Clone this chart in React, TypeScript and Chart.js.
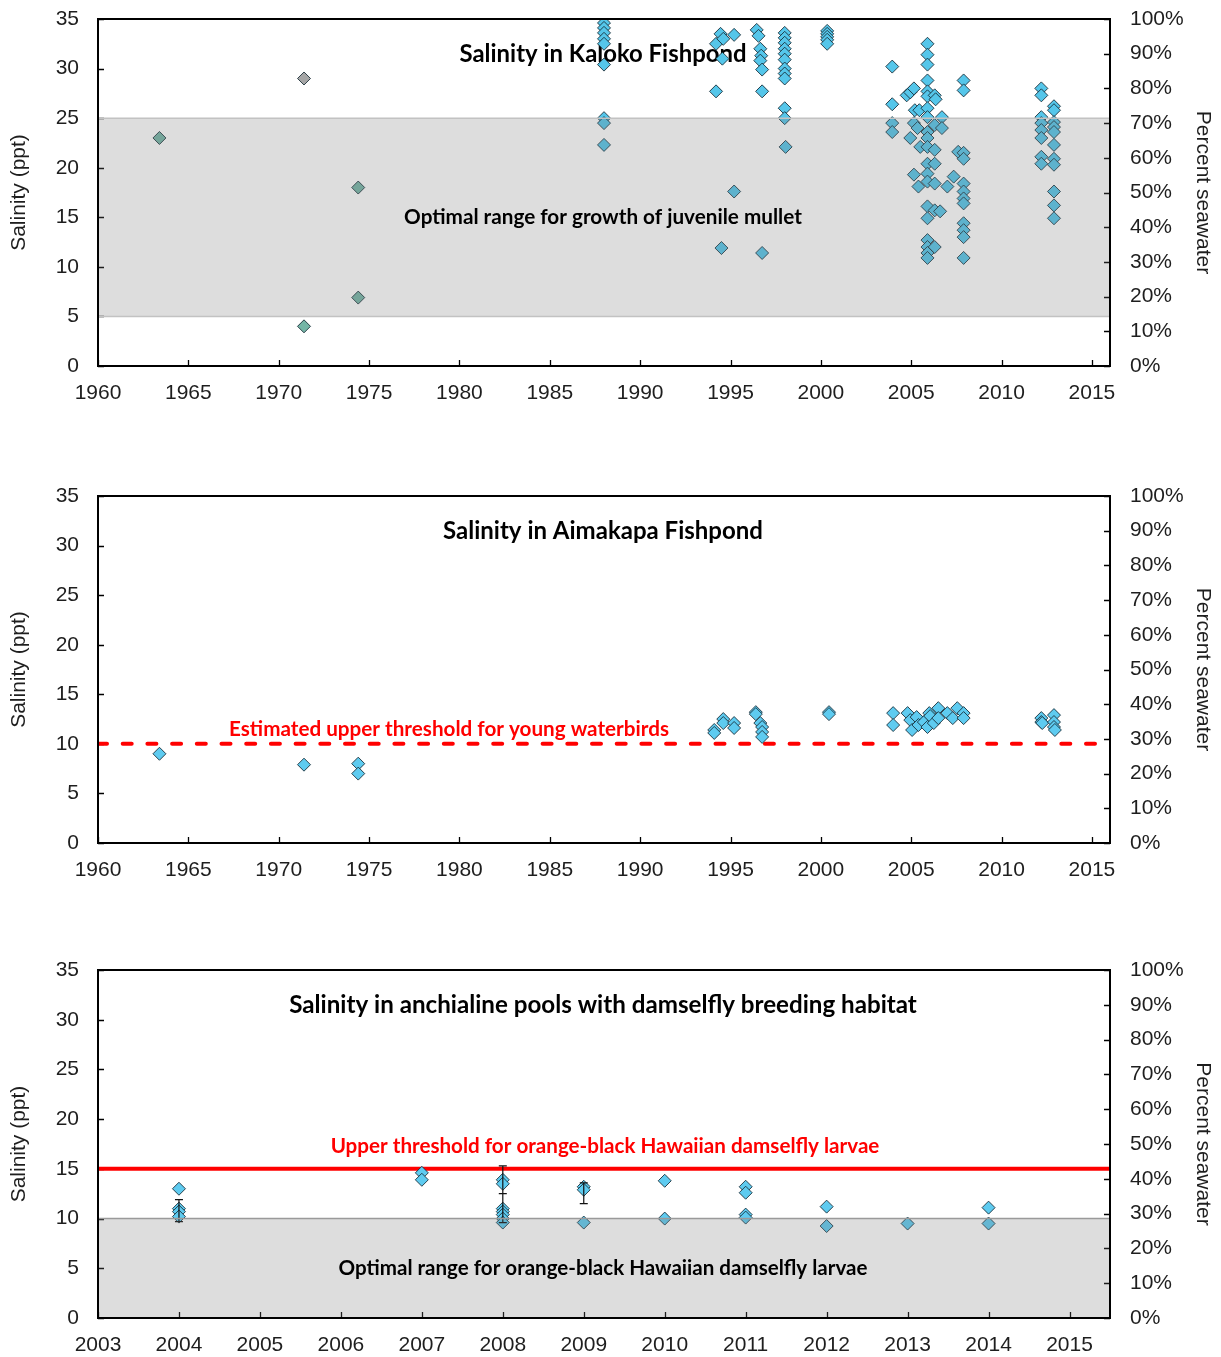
import React, { useEffect, useRef } from 'react';
import Chart from 'chart.js/auto';

// ---------------- DATA ----------------
const longTermYearTicks = [1960, 1965, 1970, 1975, 1980, 1985, 1990, 1995, 2000, 2005, 2010, 2015];
const poolYearTicks = [2003, 2004, 2005, 2006, 2007, 2008, 2009, 2010, 2011, 2012, 2013, 2014, 2015];

// Kaloko Fishpond salinity (year, ppt)
const kalokoHistoricGray = [[1971.4, 29.0]];
const kalokoHistoric = [[1963.4, 23.0], [1971.4, 4.0], [1974.4, 18.0], [1974.4, 6.9]];
const kalokoRecent = [
  [1988.0, 34.6], [1988.0, 34.1], [1988.0, 33.6], [1988.0, 33.0], [1988.0, 32.5], [1988.0, 30.4], [1988.0, 25.0], [1988.0, 24.5], [1988.0, 22.3],
  [1994.2, 32.5], [1994.45, 33.5], [1994.6, 33.0], [1994.55, 31.0], [1995.2, 33.4], [1994.2, 27.7], [1995.2, 17.6], [1994.5, 11.9],
  [1996.45, 33.9], [1996.55, 33.3], [1996.65, 32.0], [1996.7, 31.3], [1996.65, 30.8], [1996.75, 29.9], [1996.75, 27.7], [1996.75, 11.4],
  [1998.0, 33.6], [1998.0, 33.1], [1998.0, 32.6], [1998.0, 32.0], [1998.0, 31.5], [1998.0, 30.9], [1998.0, 30.0], [1998.0, 29.5], [1998.0, 29.0], [1998.0, 26.0], [1998.0, 25.0], [1998.05, 22.1],
  [2000.35, 33.8], [2000.35, 33.5], [2000.35, 33.2], [2000.35, 32.9], [2000.35, 32.5],
  [2003.95, 30.2], [2003.95, 26.4], [2003.95, 24.5], [2003.95, 23.6],
  [2004.75, 27.3], [2004.95, 27.6], [2005.15, 28.0], [2005.2, 25.8], [2005.45, 25.8], [2005.15, 24.5], [2005.35, 24.0], [2004.95, 23.0], [2005.5, 22.1], [2005.15, 19.3], [2005.4, 18.1],
  [2005.9, 32.5], [2005.9, 31.4], [2005.9, 30.4], [2005.9, 28.8], [2005.9, 27.7], [2005.9, 27.2], [2005.9, 26.0], [2005.9, 25.1], [2005.9, 23.6], [2005.9, 23.0], [2005.9, 22.1], [2005.9, 20.4], [2005.9, 19.4], [2005.9, 18.6], [2005.9, 16.1], [2005.9, 14.9], [2005.9, 12.7], [2005.9, 12.0], [2005.9, 11.4], [2005.9, 10.9],
  [2006.3, 27.3], [2006.35, 26.9], [2006.3, 24.3], [2006.3, 21.8], [2006.3, 20.4], [2006.3, 18.4], [2006.3, 15.7], [2006.3, 12.0],
  [2006.7, 25.1], [2006.7, 24.0], [2006.6, 15.6], [2007.0, 18.1], [2007.35, 19.1], [2007.6, 21.6],
  [2007.9, 28.8], [2007.9, 27.8], [2007.9, 21.5], [2007.9, 20.9], [2007.9, 18.4], [2007.9, 17.6], [2007.9, 16.9], [2007.9, 16.4], [2007.9, 14.4], [2007.9, 13.7], [2007.9, 13.0], [2007.9, 10.9],
  [2012.2, 28.0], [2012.2, 27.3], [2012.2, 25.1], [2012.2, 24.5], [2012.2, 23.8], [2012.2, 23.0], [2012.2, 21.1], [2012.2, 20.4],
  [2012.9, 26.2], [2012.9, 25.8], [2012.9, 24.6], [2012.9, 24.1], [2012.9, 23.6], [2012.9, 22.3], [2012.9, 20.9], [2012.9, 20.3], [2012.9, 17.6], [2012.9, 16.2], [2012.9, 14.9],
];

// Aimakapa Fishpond salinity (year, ppt)
const aimakapa = [
  [1963.4, 9.0], [1971.4, 7.9], [1974.4, 8.0], [1974.4, 7.0],
  [1994.1, 11.4], [1994.1, 11.1], [1994.6, 12.5], [1994.6, 12.1], [1995.2, 12.1], [1995.2, 11.6],
  [1996.4, 13.2], [1996.4, 13.0], [1996.65, 12.1], [1996.75, 11.7], [1996.75, 11.2], [1996.75, 10.7],
  [2000.45, 13.2], [2000.45, 13.0],
  [2004.0, 13.1], [2004.0, 11.9],
  [2004.8, 13.1], [2004.95, 12.4], [2005.05, 11.4], [2005.3, 12.7], [2005.4, 11.9], [2005.7, 12.2], [2005.9, 11.7], [2006.0, 13.1], [2006.05, 12.8], [2006.25, 12.1], [2006.5, 13.6], [2006.5, 12.6], [2007.0, 13.1], [2007.3, 12.6], [2007.55, 13.6], [2007.9, 13.1], [2007.9, 12.6],
  [2012.2, 12.6], [2012.2, 12.2], [2012.25, 12.1], [2012.9, 12.9], [2012.9, 12.2], [2012.9, 11.7], [2012.95, 11.4],
];

// Anchialine pools with damselfly habitat (year, ppt)
const damselflyPools = [
  [2004, 13.0], [2004, 11.0], [2004, 10.7], [2004, 10.2],
  [2007, 14.6], [2007, 13.9],
  [2008, 13.9], [2008, 13.5], [2008, 11.0], [2008, 10.7], [2008, 10.4], [2008, 10.0], [2008, 9.6],
  [2009, 13.2], [2009, 12.9], [2009, 9.6],
  [2010, 13.8], [2010, 10.0],
  [2011, 13.2], [2011, 12.6], [2011, 10.4], [2011, 10.1],
  [2012, 11.2], [2012, 9.25],
  [2013, 9.5],
  [2014, 11.1], [2014, 9.5],
];
// error bars (year, low, high)
const damselflyErrorBars = [[2004, 9.7, 11.9], [2008, 12.5, 15.3], [2008, 9.6, 12.5], [2009, 11.5, 13.6]];

const mulletOptimalRange = [5, 25];
const waterbirdThreshold = 10;
const damselflyThreshold = 15;
const damselflyOptimalRange = [0, 10];

// ---------------- STYLE / HELPERS ----------------
const AXIS_FONT = "'Liberation Sans', Arial, sans-serif";
const BOLD_FAMILY = "Lato, 'Open Sans', sans-serif";
const TEXT_COLOR = '#1e1e1e';
const CYAN = '#5ecbf0';
const MARKER_EDGE = 'rgba(20,40,50,0.85)';

const toPoints = (arr: number[][]) => arr.map(([x, y]) => ({ x, y }));

function drawFitted(ctx: CanvasRenderingContext2D, text: string, width: number, cx: number, cy: number, color: string) {
  ctx.save();
  ctx.font = `bold 100px ${BOLD_FAMILY}`;
  const w = ctx.measureText(text).width;
  const size = (100 * width) / w;
  ctx.font = `bold ${size.toFixed(2)}px ${BOLD_FAMILY}`;
  ctx.fillStyle = color;
  ctx.textAlign = 'center';
  ctx.textBaseline = 'middle';
  ctx.fillText(text, cx, cy);
  ctx.restore();
}

type Deco = {
  title: string;
  titleWidth: number;
  band?: { from: number; to: number; edges: number[]; edgeColor: string };
  bandLabel?: { text: string; width: number };
  threshold?: { value: number; text: string; width: number; dx: number; dy: number };
  errorBars?: number[][];
};

function decorations(d: Deco) {
  return {
    id: 'decorations',
    beforeDatasetsDraw(chart: any) {
      const { ctx, chartArea: a, scales } = chart;
      ctx.save();
      ctx.strokeStyle = '#000';
      ctx.lineWidth = 1.3;
      ctx.beginPath();
      scales.x.ticks.forEach((t: any) => {
        const p = Math.round(scales.x.getPixelForValue(t.value)) + 0.5;
        ctx.moveTo(p, a.bottom);
        ctx.lineTo(p, a.bottom - 6);
      });
      scales.y.ticks.forEach((t: any) => {
        const p = Math.round(scales.y.getPixelForValue(t.value)) + 0.5;
        ctx.moveTo(a.left, p);
        ctx.lineTo(a.left + 6, p);
      });
      scales.y2.ticks.forEach((t: any) => {
        const p = Math.round(scales.y2.getPixelForValue(t.value)) + 0.5;
        ctx.moveTo(a.right, p);
        ctx.lineTo(a.right - 6, p);
      });
      ctx.stroke();
      ctx.restore();
      drawFitted(ctx, d.title, d.titleWidth, (a.left + a.right) / 2 - 1, a.top + 35, '#000');
    },
    afterDatasetsDraw(chart: any) {
      const { ctx, chartArea: a, scales } = chart;
      if (d.errorBars) {
        ctx.save();
        ctx.strokeStyle = '#111';
        ctx.lineWidth = 1.2;
        ctx.beginPath();
        d.errorBars.forEach(([x, lo, hi]) => {
          const px = scales.x.getPixelForValue(x);
          const y1 = scales.y.getPixelForValue(lo);
          const y2 = scales.y.getPixelForValue(hi);
          ctx.moveTo(px, y1); ctx.lineTo(px, y2);
          ctx.moveTo(px - 4, y1); ctx.lineTo(px + 4, y1);
          ctx.moveTo(px - 4, y2); ctx.lineTo(px + 4, y2);
        });
        ctx.stroke();
        ctx.restore();
      }
      if (d.band) {
        const yTop = scales.y.getPixelForValue(d.band.to);
        const yBot = scales.y.getPixelForValue(d.band.from);
        ctx.save();
        ctx.fillStyle = 'rgba(120,120,120,0.25)';
        ctx.fillRect(a.left, yTop, a.right - a.left, yBot - yTop);
        ctx.strokeStyle = d.band.edgeColor;
        ctx.lineWidth = 1.5;
        ctx.beginPath();
        d.band.edges.forEach((v) => {
          const p = scales.y.getPixelForValue(v);
          ctx.moveTo(a.left, p); ctx.lineTo(a.right, p);
        });
        ctx.stroke();
        ctx.restore();
        if (d.bandLabel) {
          const mid = scales.y.getPixelForValue((d.band.from + d.band.to) / 2);
          drawFitted(ctx, d.bandLabel.text, d.bandLabel.width, (a.left + a.right) / 2 - 1, mid, '#000');
        }
      }
      if (d.threshold) {
        const p = scales.y.getPixelForValue(d.threshold.value);
        drawFitted(ctx, d.threshold.text, d.threshold.width, a.left + d.threshold.dx, p - d.threshold.dy, '#ff0000');
      }
    },
    afterDraw(chart: any) {
      const { ctx, chartArea: a } = chart;
      ctx.save();
      ctx.strokeStyle = '#000';
      ctx.lineWidth = 2;
      ctx.strokeRect(a.left, a.top, a.right - a.left, a.bottom - a.top);
      ctx.restore();
    },
  };
}

function makeConfig(opts: {
  xMin: number; xMax: number; xTicks: number[]; xAxisHeight: number;
  datasets: any[]; deco: Deco;
}) {
  const tickFont = { family: AXIS_FONT, size: 21 };
  return {
    type: 'scatter' as const,
    data: { datasets: opts.datasets },
    options: {
      animation: false,
      responsive: false,
      events: [],
      layout: { padding: { top: 19, left: 0, right: 0, bottom: 0 } },
      plugins: { legend: { display: false }, tooltip: { enabled: false } },
      scales: {
        x: {
          type: 'linear',
          min: opts.xMin,
          max: opts.xMax,
          afterBuildTicks: (s: any) => { s.ticks = opts.xTicks.map((v) => ({ value: v })); },
          ticks: { font: tickFont, color: TEXT_COLOR, padding: 0, maxRotation: 0, autoSkip: false, callback: (v: any) => String(v) },
          grid: { display: false, drawTicks: true, tickLength: 15 },
          border: { display: false },
          afterFit: (s: any) => { s.height = opts.xAxisHeight; },
        },
        y: {
          type: 'linear',
          position: 'left',
          min: 0,
          max: 35,
          ticks: { stepSize: 5, font: tickFont, color: TEXT_COLOR, padding: 0, callback: (v: any) => String(v) },
          grid: { display: false, drawTicks: true, tickLength: 19 },
          border: { display: false },
          title: { display: true, text: 'Salinity (ppt)', font: { family: AXIS_FONT, size: 21 }, color: TEXT_COLOR, padding: { top: 7, bottom: 0 } },
          afterFit: (s: any) => { s.width = 98; },
        },
        y2: {
          type: 'linear',
          position: 'right',
          min: 0,
          max: 100,
          ticks: { stepSize: 10, font: tickFont, color: TEXT_COLOR, padding: 0, callback: (v: any) => `${v}%` },
          grid: { display: false, drawTicks: true, tickLength: 20 },
          border: { display: false },
          title: { display: true, text: 'Percent seawater', font: { family: AXIS_FONT, size: 21 }, color: TEXT_COLOR, padding: { top: 6, bottom: 0 } },
          afterFit: (s: any) => { s.width = 111; },
        },
      },
    },
    plugins: [decorations(opts.deco)],
  };
}

const markerDataset = (data: number[][], color: string) => ({
  data: toPoints(data),
  pointStyle: 'rectRot',
  pointRadius: 6.5,
  pointBorderWidth: 1,
  backgroundColor: color,
  borderColor: MARKER_EDGE,
  order: 0,
});

const thresholdLine = (value: number, xMin: number, xMax: number, dash: number[]) => ({
  type: 'line',
  data: [{ x: xMin, y: value }, { x: xMax, y: value }],
  showLine: true,
  borderColor: '#ff0000',
  borderWidth: 4,
  borderDash: dash,
  borderCapStyle: dash.length ? 'round' : 'butt',
  pointRadius: 0,
  order: 1,
});

const kalokoConfig = () => makeConfig({
  xMin: 1960, xMax: 2016, xTicks: longTermYearTicks, xAxisHeight: 64,
  datasets: [
    markerDataset(kalokoRecent, '#55c6ea'),
    markerDataset(kalokoHistoric, '#74b5a6'),
    markerDataset(kalokoHistoricGray, '#a6a6a6'),
  ],
  deco: {
    title: 'Salinity in Kaloko Fishpond', titleWidth: 287,
    band: { from: mulletOptimalRange[0], to: mulletOptimalRange[1], edges: mulletOptimalRange, edgeColor: '#c2c2c2' },
    bandLabel: { text: 'Optimal range for growth of juvenile mullet', width: 398 },
  },
});

const aimakapaConfig = () => makeConfig({
  xMin: 1960, xMax: 2016, xTicks: longTermYearTicks, xAxisHeight: 64,
  datasets: [
    markerDataset(aimakapa, CYAN),
    thresholdLine(waterbirdThreshold, 1960, 2016, [9, 15.7]),
  ],
  deco: {
    title: 'Salinity in Aimakapa Fishpond', titleWidth: 320,
    threshold: { value: waterbirdThreshold, text: 'Estimated upper threshold for young waterbirds', width: 440, dx: 351, dy: 15 },
  },
});

const poolsConfig = () => makeConfig({
  xMin: 2003, xMax: 2015.5, xTicks: poolYearTicks, xAxisHeight: 39,
  datasets: [
    markerDataset(damselflyPools, CYAN),
    thresholdLine(damselflyThreshold, 2003, 2015.5, []),
  ],
  deco: {
    title: 'Salinity in anchialine pools with damselfly breeding habitat', titleWidth: 628,
    band: { from: damselflyOptimalRange[0], to: damselflyOptimalRange[1], edges: [damselflyOptimalRange[1]], edgeColor: '#9a9a9a' },
    bandLabel: { text: 'Optimal range for orange-black Hawaiian damselfly larvae', width: 529 },
    threshold: { value: damselflyThreshold, text: 'Upper threshold for orange-black Hawaiian damselfly larvae', width: 549, dx: 507, dy: 22 },
    errorBars: damselflyErrorBars,
  },
});

function ChartCanvas({ makeCfg, top, height }: { makeCfg: () => any; top: number; height: number }) {
  const ref = useRef<HTMLCanvasElement>(null);
  useEffect(() => {
    const chart = new Chart(ref.current as HTMLCanvasElement, makeCfg());
    return () => chart.destroy();
  }, []);
  return (
    <canvas
      ref={ref}
      width={1221}
      height={height}
      style={{ position: 'absolute', left: 0, top, width: 1221, height }}
    />
  );
}

export default function App() {
  return (
    <div style={{ position: 'absolute', left: 0, top: 0, width: 1221, height: 1357, background: '#fff', overflow: 'hidden' }}>
      <ChartCanvas makeCfg={kalokoConfig} top={0} height={430} />
      <ChartCanvas makeCfg={aimakapaConfig} top={477} height={430} />
      <ChartCanvas makeCfg={poolsConfig} top={951} height={406} />
    </div>
  );
}
